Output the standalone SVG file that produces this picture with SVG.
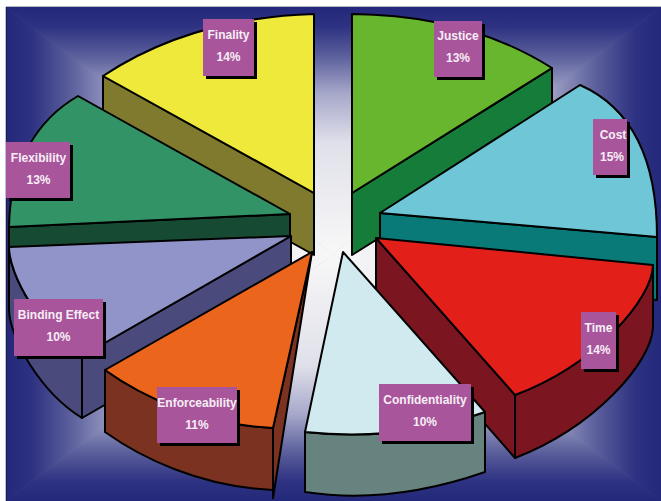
<svg xmlns="http://www.w3.org/2000/svg" width="661" height="501" viewBox="0 0 661 501">
<defs>
<style>
.o{stroke:#000;stroke-width:2;stroke-linejoin:round;stroke-linecap:round}
.lbl{fill:#a9559b}
.sh{fill:#000}
.t{font-family:"Liberation Sans",Arial,sans-serif;font-size:12px;font-weight:bold;fill:#f6eef6;text-anchor:middle}
</style>
<linearGradient id="gT" gradientUnits="userSpaceOnUse" x1="0" y1="7" x2="0" y2="254">
<stop offset="0" stop-color="#24287a"/><stop offset="0.08" stop-color="#2e3282"/><stop offset="0.2" stop-color="#5c609c"/><stop offset="0.35" stop-color="#a6a8ca"/><stop offset="0.55" stop-color="#e0e0ea"/><stop offset="1" stop-color="#f8f8f8"/>
</linearGradient>
<linearGradient id="gB" gradientUnits="userSpaceOnUse" x1="0" y1="501" x2="0" y2="254">
<stop offset="0" stop-color="#24287a"/><stop offset="0.08" stop-color="#2e3282"/><stop offset="0.2" stop-color="#5c609c"/><stop offset="0.35" stop-color="#a6a8ca"/><stop offset="0.55" stop-color="#e0e0ea"/><stop offset="1" stop-color="#f8f8f8"/>
</linearGradient>
<linearGradient id="gL" gradientUnits="userSpaceOnUse" x1="6" y1="0" x2="333" y2="0">
<stop offset="0" stop-color="#24287a"/><stop offset="0.08" stop-color="#2e3282"/><stop offset="0.2" stop-color="#5c609c"/><stop offset="0.35" stop-color="#a6a8ca"/><stop offset="0.55" stop-color="#e0e0ea"/><stop offset="1" stop-color="#f8f8f8"/>
</linearGradient>
<linearGradient id="gR" gradientUnits="userSpaceOnUse" x1="661" y1="0" x2="333" y2="0">
<stop offset="0" stop-color="#24287a"/><stop offset="0.08" stop-color="#2e3282"/><stop offset="0.2" stop-color="#5c609c"/><stop offset="0.35" stop-color="#a6a8ca"/><stop offset="0.55" stop-color="#e0e0ea"/><stop offset="1" stop-color="#f8f8f8"/>
</linearGradient>
<clipPath id="plot"><rect x="7" y="7" width="654" height="494"/></clipPath>
</defs>
<rect width="661" height="501" fill="#ffffff"/>
<g id="background">
<rect x="6" y="7" width="655" height="494" fill="#7a7cb0"/>
<polygon points="6,7 661,7 333,254" fill="url(#gT)" stroke="url(#gT)" stroke-width="0.6"/>
<polygon points="6,501 661,501 333,254" fill="url(#gB)" stroke="url(#gB)" stroke-width="0.6"/>
<polygon points="6,7 6,501 333,254" fill="url(#gL)" stroke="url(#gL)" stroke-width="0.6"/>
<polygon points="661,7 661,501 333,254" fill="url(#gR)" stroke="url(#gR)" stroke-width="0.6"/>
<line x1="6" y1="6.5" x2="661" y2="6.5" stroke="#b8b8c0" stroke-width="1"/>
<line x1="6.5" y1="7" x2="6.5" y2="501" stroke="#1c1e44" stroke-width="1"/>
</g>
<g clip-path="url(#plot)">
<g id="finality">
<path class="o" fill="#7f7a2e" d="M103,76 L314,193 L314,255 L103,138 Z"/>
<path class="o" fill="#efe93c" d="M314,193 L314,14 Q190,18 103,76 Z"/>
</g>
<g id="justice">
<path class="o" fill="#167c3a" d="M352,193 L552,68 L552,130 L352,255 Z"/>
<path class="o" fill="#68b62e" d="M352,193 L352,14 Q468,15 552,68 Z"/>
</g>
<g id="flexibility">
<path class="o" fill="#174a33" d="M290,214 L9,227 L9,289 L290,276 Z"/>
<path class="o" fill="#329466" d="M290,214 L78,96 C40,118 10,160 9,227 Z"/>
</g>
<g id="cost">
<path class="o" fill="#0a7a78" d="M380,213 L657,237 L657,300 L380,275 Z"/>
<path class="o" fill="#6fc6d6" d="M380,213 L580,85 C625,105 657,150 657,237 Z"/>
</g>
<g id="binding-effect">
<path class="o" fill="#4a4a7c" d="M9,247 C9,275 40,330 82,356 L291,236 L291,298 L82,418 C40,392 9,337 9,309 Z"/>
<line class="o" x1="82" y1="356" x2="82" y2="418"/>
<path class="o" fill="#9094c8" d="M291,236 L9,247 C9,275 40,330 82,356 Z"/>
</g>
<g id="time">
<path class="o" fill="#7b1620" d="M376,238 L515,395 C595,365 652,300 653,265 L653,327 C652,362 595,427 515,458 L376,300 Z"/>
<line class="o" x1="515" y1="395" x2="515" y2="458"/>
<path class="o" fill="#e31f1a" d="M376,238 L653,265 C652,300 595,365 515,395 Z"/>
</g>
<g id="enforceability">
<path class="o" fill="#7b3220" d="M105,370 C140,395 200,425 273,428 L312,252 L273,498 L273,490 C200,487 140,457 105,432 Z"/>
<line class="o" x1="273" y1="428" x2="273" y2="498"/>
<path class="o" fill="#ec651d" d="M312,252 L105,370 C140,395 200,425 273,428 Z"/>
</g>
<g id="confidentiality">
<path class="o" fill="#67837f" d="M305,432 L305,492 Q390,505 485,472 L485,412 Q400,442 305,432 Z"/>
<path class="o" fill="#d0eaef" d="M343,252 L305,432 Q400,442 485,412 Z"/>
</g>
</g>
<g id="label-finality">
<rect class="sh" x="206" y="22" width="51" height="57"/><rect class="lbl" x="203" y="19" width="51" height="57"/>
<text class="t" x="228.5" y="39">Finality</text><text class="t" x="228.5" y="61">14%</text>
</g>
<g id="label-justice">
<rect class="sh" x="437" y="24" width="48" height="56"/><rect class="lbl" x="434" y="21" width="48" height="56"/>
<text class="t" x="458" y="40">Justice</text><text class="t" x="458" y="62">13%</text>
</g>
<g id="label-flexibility">
<rect class="sh" x="9" y="145" width="64" height="56"/><rect class="lbl" x="6" y="142" width="64" height="56"/>
<text class="t" x="38.5" y="162">Flexibility</text><text class="t" x="38.5" y="184">13%</text>
</g>
<g id="label-cost">
<rect class="sh" x="596" y="122" width="34" height="56"/><rect class="lbl" x="593" y="119" width="34" height="56"/>
<text class="t" x="613" y="139">Cost</text><text class="t" x="612" y="161">15%</text>
</g>
<g id="label-binding-effect">
<rect class="sh" x="17" y="302" width="89" height="57"/><rect class="lbl" x="14" y="299" width="89" height="57"/>
<text class="t" x="58.5" y="319">Binding Effect</text><text class="t" x="58.5" y="341">10%</text>
</g>
<g id="label-time">
<rect class="sh" x="584" y="315" width="35" height="57"/><rect class="lbl" x="581" y="312" width="35" height="57"/>
<text class="t" x="598.5" y="332">Time</text><text class="t" x="598.5" y="354">14%</text>
</g>
<g id="label-enforceability">
<rect class="sh" x="160" y="390" width="80" height="56"/><rect class="lbl" x="157" y="387" width="80" height="56"/>
<text class="t" x="197" y="407">Enforceability</text><text class="t" x="197" y="429">11%</text>
</g>
<g id="label-confidentiality">
<rect class="sh" x="382" y="387" width="92" height="57"/><rect class="lbl" x="379" y="384" width="92" height="57"/>
<text class="t" x="425" y="404">Confidentiality</text><text class="t" x="425" y="426">10%</text>
</g>
</svg>
